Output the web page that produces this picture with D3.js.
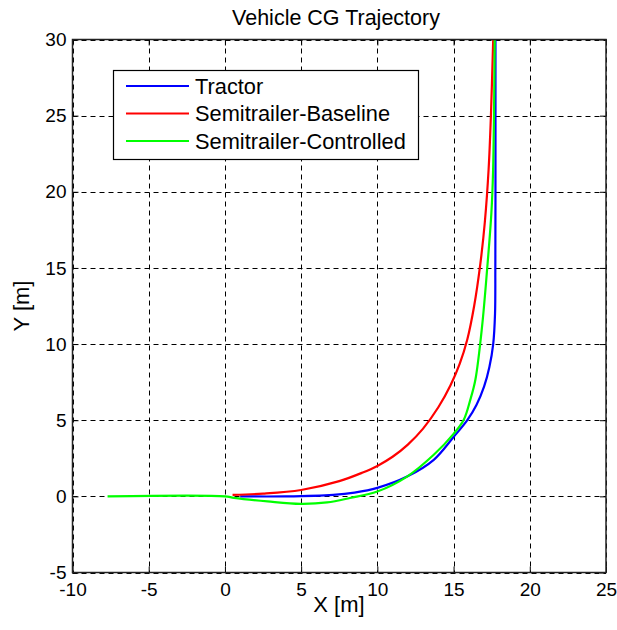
<!DOCTYPE html>
<html>
<head>
<meta charset="utf-8">
<script src="https://cdn.jsdelivr.net/npm/d3@7/dist/d3.min.js"></script>
<style>
  html, body { margin: 0; padding: 0; background: #fff; }
  svg text { font-family: "Liberation Sans", Arial, Helvetica, sans-serif; fill: #000; }
</style>
</head>
<body>
<svg id="chart" width="617" height="630"></svg>
<script>
// Axis ticks
const xTicks = [-10, -5, 0, 5, 10, 15, 20, 25];
const yTicks = [-5, 0, 5, 10, 15, 20, 25, 30];

// CG trajectories [m]
const tractorX = [1, 4, 7.1, 8.5, 10, 11.95, 13.7, 15.0, 15.9, 16.5, 17.0, 17.35, 17.6, 17.72, 17.74, 17.75, 17.75];
const tractorY = [0, 0, 0.1, 0.25, 0.56, 1.3, 2.4, 3.9, 5.0, 6.0, 7.2, 8.5, 10.0, 12.0, 15.0, 20, 30];

const baselineX = [0.5, 2.5, 5.0, 7.5, 9.0, 10, 11, 12, 13, 14, 14.8, 15.4, 15.9, 16.35, 16.76, 17.05, 17.3, 17.45, 17.6];
const baselineY = [0.1, 0.18, 0.42, 1.0, 1.55, 2.0, 2.6, 3.4, 4.45, 5.85, 7.3, 8.7, 10.3, 12.5, 15.3, 18.0, 21.5, 25.0, 30];

const controlledX = [-7.7, 0, 0.6, 2.8, 4.96, 6.7, 8.2, 10, 11.95, 13.7, 15.0, 15.67, 16.1, 16.43, 16.87, 17.2, 17.48, 17.59, 17.7];
const controlledY = [0, 0, -0.1, -0.33, -0.49, -0.4, -0.11, 0.32, 1.3, 2.73, 4.1, 5.03, 6.35, 7.66, 11.16, 14.9, 18.6, 21.3, 30];

const seriesNames = ["Tractor", "Semitrailer-Baseline", "Semitrailer-Controlled"];
const seriesColors = ["#0000ff", "#ff0000", "#00ff00"];

const series = [
  { name: seriesNames[0], color: seriesColors[0], pts: d3.zip(tractorX, tractorY) },
  { name: seriesNames[1], color: seriesColors[1], pts: d3.zip(baselineX, baselineY) },
  { name: seriesNames[2], color: seriesColors[2], pts: d3.zip(controlledX, controlledY) }
];

const svg = d3.select("#chart");
const plotL = 72.5, plotR = 606, plotT = 39.5, plotB = 572.5;

const x = d3.scaleLinear().domain([-10, 25]).range([plotL, plotR]);
const y = d3.scaleLinear().domain([-5, 30]).range([plotB, plotT]);

// dashed grid
const grid = svg.append("g").attr("stroke", "#000").attr("stroke-width", 1)
  .attr("stroke-dasharray", "5,4").attr("fill", "none");
grid.selectAll("line.gx").data(xTicks).join("line")
  .attr("x1", d => Math.round(x(d)) + 0.5).attr("x2", d => Math.round(x(d)) + 0.5)
  .attr("y1", plotT).attr("y2", plotB);
grid.selectAll("line.gy").data(yTicks).join("line")
  .attr("y1", d => Math.round(y(d)) + 0.5).attr("y2", d => Math.round(y(d)) + 0.5)
  .attr("x1", plotL).attr("x2", plotR);

// trajectories
svg.append("clipPath").attr("id", "plotClip").append("rect")
  .attr("x", plotL).attr("y", plotT).attr("width", plotR - plotL).attr("height", plotB - plotT);

const line = d3.line().x(d => x(d[0])).y(d => y(d[1])).curve(d3.curveCatmullRom.alpha(0.5));
svg.append("g").attr("clip-path", "url(#plotClip)")
  .selectAll("path").data(series).join("path")
  .attr("fill", "none").attr("stroke", d => d.color).attr("stroke-width", 2.2)
  .attr("d", d => line(d.pts));

// axes (ticks inside the box, on all four sides)
const fmt = d => String(d);
const xAxisB = d3.axisBottom(x).tickValues(xTicks).tickSize(-6).tickPadding(10).tickFormat(fmt);
const yAxisL = d3.axisLeft(y).tickValues(yTicks).tickSize(-6).tickPadding(6).tickFormat(fmt);

const gx = svg.append("g").attr("transform", `translate(0,${plotB})`).call(xAxisB);
const gy = svg.append("g").attr("transform", `translate(${plotL},0)`).call(yAxisL);
[gx, gy].forEach(g => {
  g.select(".domain").remove();
  g.selectAll(".tick line").attr("stroke", "#000");
  g.selectAll(".tick text").style("font-size", "19px").attr("fill", "#000");
});
svg.append("g").attr("transform", `translate(0,${plotT})`)
  .call(d3.axisTop(x).tickValues(xTicks).tickSize(-6).tickFormat(""))
  .call(g => g.select(".domain").remove());
svg.append("g").attr("transform", `translate(${plotR},0)`)
  .call(d3.axisRight(y).tickValues(yTicks).tickSize(-6).tickFormat(""))
  .call(g => g.select(".domain").remove());

// frame
svg.append("rect").attr("x", plotL).attr("y", plotT)
  .attr("width", plotR - plotL).attr("height", plotB - plotT)
  .attr("fill", "none").attr("stroke", "#222").attr("stroke-width", 1.5);

// title and axis labels
svg.append("text").attr("x", 336).attr("y", 25).attr("text-anchor", "middle")
  .style("font-size", "21.5px").text("Vehicle CG Trajectory");
svg.append("text").attr("x", 339).attr("y", 612).attr("text-anchor", "middle")
  .style("font-size", "22px").text("X [m]");
svg.append("text").attr("transform", "translate(29,306) rotate(-90)").attr("text-anchor", "middle")
  .style("font-size", "22px").text("Y [m]");

// legend
const lg = svg.append("g");
lg.append("rect").attr("x", 113.5).attr("y", 70.5).attr("width", 305).attr("height", 89)
  .attr("fill", "#fff").attr("stroke", "#000").attr("stroke-width", 1.2);
const rows = lg.selectAll("g.row").data(series).join("g")
  .attr("transform", (d, i) => `translate(0,${86 + i * 27.5})`);
rows.append("line").attr("x1", 126).attr("x2", 189).attr("y1", 0).attr("y2", 0)
  .attr("stroke", d => d.color).attr("stroke-width", 2.2);
rows.append("text").attr("x", 195).attr("y", 7.5).style("font-size", "21.8px").text(d => d.name);
</script>
</body>
</html>
